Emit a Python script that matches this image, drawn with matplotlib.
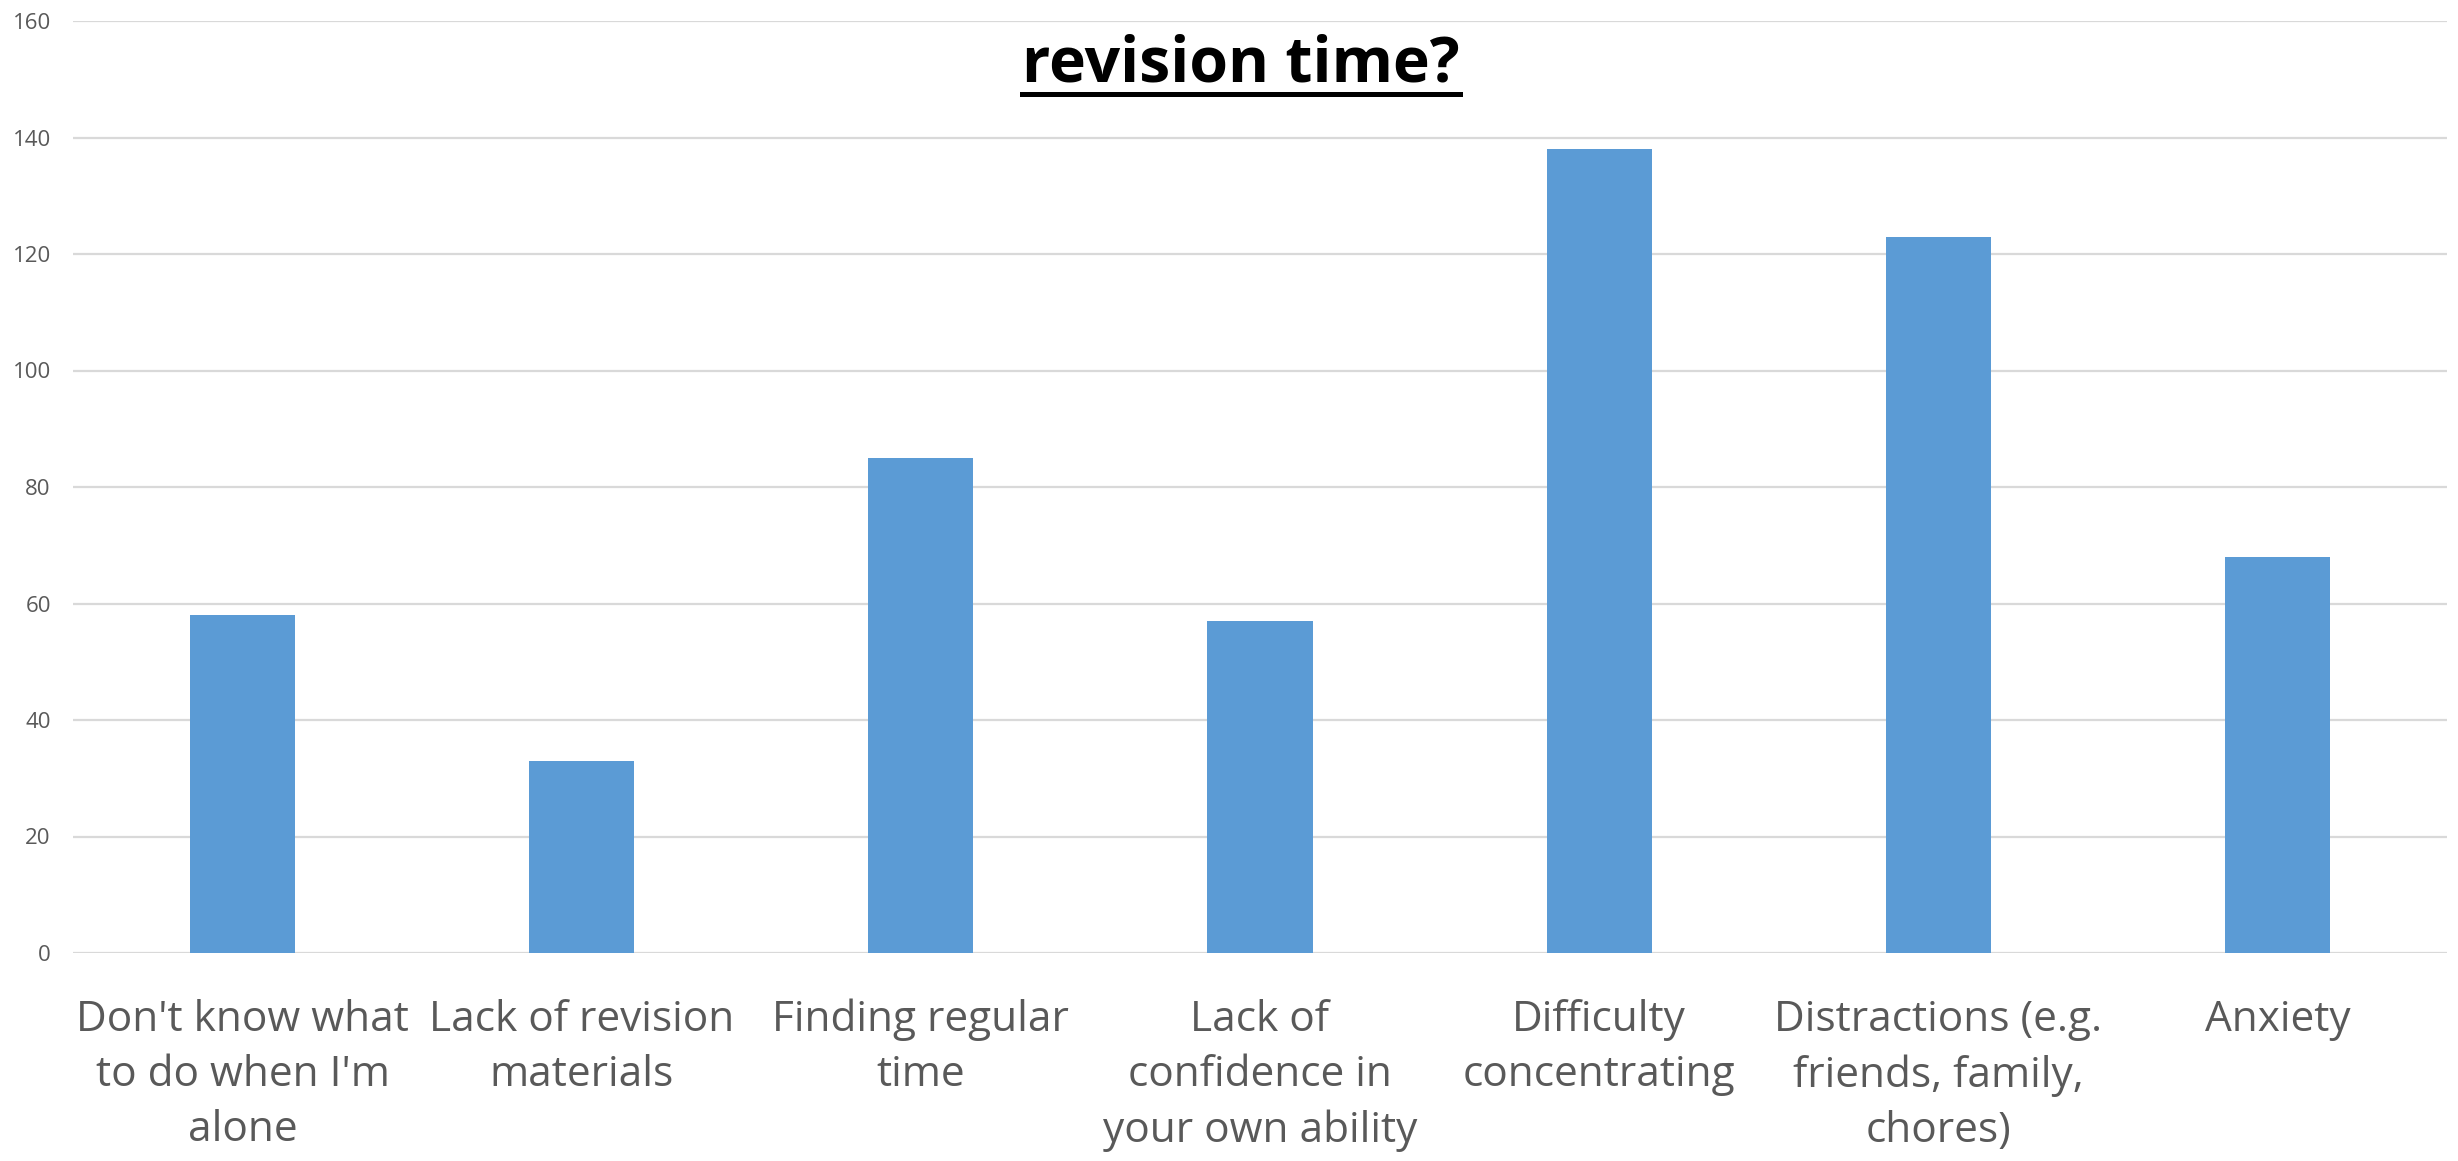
import matplotlib
matplotlib.use("Agg")
import matplotlib.pyplot as plt
from matplotlib.lines import Line2D

categories = [
    "Don't know what\nto do when I'm\nalone",
    "Lack of revision\nmaterials",
    "Finding regular\ntime",
    "Lack of\nconfidence in\nyour own ability",
    "Difficulty\nconcentrating",
    "Distractions (e.g.\nfriends, family,\nchores)",
    "Anxiety",
]
counts = [58, 33, 85, 57, 138, 123, 68]
y_ticks = [0, 20, 40, 60, 80, 100, 120, 140, 160]
title_text = "revision time?"

plt.rcParams["font.family"] = ["Open Sans", "DejaVu Sans"]

fig = plt.figure(figsize=(24.58, 11.61), dpi=100)
ax = fig.add_axes([73 / 2458, 1 - 953 / 1161, (2447 - 73) / 2458, (953 - 21) / 1161])

x = list(range(len(categories)))
ax.bar(x, counts, width=0.31, color="#5B9BD5", zorder=3)

ax.set_xlim(-0.5, len(categories) - 0.5)
ax.set_ylim(0, 160)
ax.set_yticks(y_ticks)
ax.set_yticklabels([str(v) for v in y_ticks], fontsize=16, color="#595959")
ax.set_xticks(x)
ax.set_xticklabels(categories, fontsize=30.5, color="#595959", linespacing=1.41)
ax.tick_params(axis="both", length=0)
ax.tick_params(axis="y", pad=16)
ax.tick_params(axis="x", pad=33)

ax.grid(axis="y", color="#d9d9d9", linewidth=1.6, zorder=0)
for s in ax.spines.values():
    s.set_visible(False)

# Title (bold, underlined)
t = fig.text(1241 / 2458, 1 - 81 / 1161, title_text, ha="center", va="baseline",
             fontsize=45, fontweight="bold", color="black")
fig.canvas.draw()
bb = t.get_window_extent()
inv = fig.transFigure.inverted()
(x0, _), (x1, _) = inv.transform([(bb.x0, 0), (bb.x1, 0)])
fig.add_artist(Line2D([x0, x1], [1 - 94 / 1161] * 2, transform=fig.transFigure,
                      color="black", linewidth=3.6))

fig.savefig("out.png", dpi=100, facecolor="white")
